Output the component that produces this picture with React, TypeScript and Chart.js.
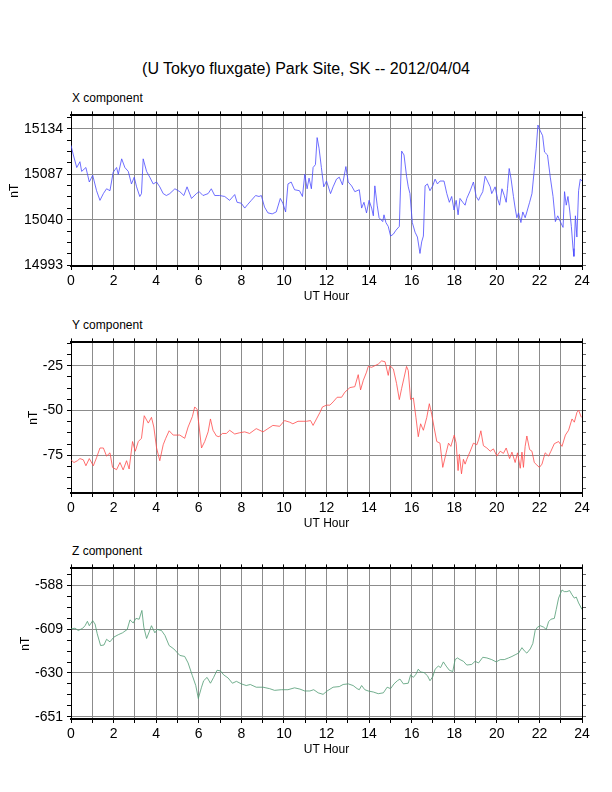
import { useEffect, useRef } from 'react';
import { Chart, registerables } from 'chart.js';

Chart.register(...registerables);

const FONT = '"Liberation Sans", Helvetica, Arial, sans-serif';
const GRID = '#8c8c8c';

// UT hours, shared tick list
const hourTicks = [0, 1, 2, 3, 4, 5, 6, 7, 8, 9, 10, 11, 12, 13, 14, 15, 16, 17, 18, 19, 20, 21, 22, 23, 24];

// X component (nT)
const xHours = [
  0, 0.11, 0.27, 0.42, 0.5, 0.7, 0.86, 1.02, 1.2, 1.36, 1.52, 1.67, 1.83, 1.98, 2.14, 2.22, 2.38, 2.53, 2.69, 2.84,
  2.97, 3.08, 3.23, 3.31, 3.39, 3.55, 3.7, 3.86, 4.02, 4.17, 4.33, 4.48, 4.64, 4.88, 5.11, 5.3, 5.45, 5.66, 5.89, 6.02,
  6.2, 6.44, 6.59, 6.75, 6.98, 7.22, 7.45, 7.69, 7.8, 8.0, 8.16, 8.31, 8.47, 8.67, 8.83, 8.94, 9.09, 9.25, 9.45, 9.64,
  9.83, 9.95, 10.08, 10.19, 10.34, 10.5, 10.73, 10.87, 10.98, 11.09, 11.18, 11.29, 11.37, 11.48, 11.56, 11.65, 11.76,
  11.87, 12.0, 12.19, 12.31, 12.47, 12.6, 12.75, 12.91, 13.02, 13.18, 13.33, 13.54, 13.65, 13.76, 13.88, 14.0, 14.12,
  14.2, 14.27, 14.38, 14.47, 14.64, 14.7, 14.79, 14.9, 15.01, 15.14, 15.26, 15.42, 15.53, 15.64, 15.76, 15.84, 15.92,
  16.03, 16.16, 16.27, 16.39, 16.47, 16.55, 16.63, 16.74, 16.86, 16.99, 17.1, 17.21, 17.33, 17.52, 17.65, 17.77, 17.88,
  17.99, 18.09, 18.18, 18.27, 18.4, 18.51, 18.59, 18.75, 18.9, 19.03, 19.14, 19.22, 19.34, 19.45, 19.56, 19.69, 19.76,
  19.92, 20.03, 20.13, 20.24, 20.35, 20.44, 20.5, 20.58, 20.67, 20.78, 20.86, 20.94, 21.02, 21.13, 21.22, 21.33, 21.41,
  21.54, 21.65, 21.76, 21.85, 21.93, 22.04, 22.15, 22.24, 22.38, 22.51, 22.64, 22.75, 22.86, 22.98, 23.11, 23.18, 23.26,
  23.34, 23.42, 23.5, 23.58, 23.62, 23.69, 23.76, 23.84, 23.92, 24.0,
];
const xValues = [
  15117, 15107, 15094, 15100, 15090, 15094, 15079, 15086, 15070, 15060, 15067, 15072, 15070, 15089, 15094, 15087, 15103, 15094, 15090, 15077,
  15084, 15074, 15064, 15067, 15103, 15090, 15084, 15077, 15079, 15074, 15067, 15065, 15067, 15072, 15069, 15065, 15074, 15062, 15067, 15069,
  15065, 15067, 15072, 15065, 15065, 15064, 15060, 15066, 15058, 15057, 15052, 15056, 15060, 15065, 15064, 15065, 15053, 15047, 15046, 15048,
  15062, 15057, 15048, 15077, 15079, 15071, 15070, 15064, 15087, 15072, 15083, 15072, 15094, 15097, 15125, 15114, 15094,
  15074, 15080, 15067, 15074, 15082, 15084, 15076, 15095, 15079, 15075, 15069, 15071, 15052, 15058, 15047, 15060, 15052,
  15044, 15075, 15055, 15042, 15038, 15045, 15037, 15033, 15023, 15025, 15029, 15033, 15111, 15107, 15085, 15074, 15067,
  15037, 15027, 15022, 15005, 15017, 15023, 15075, 15077, 15070, 15075, 15082, 15077, 15080, 15080, 15067, 15058, 15064,
  15050, 15060, 15045, 15062, 15058, 15055, 15062, 15070, 15079, 15064, 15060, 15064, 15069, 15085, 15080, 15074, 15067,
  15074, 15062, 15055, 15072, 15065, 15058, 15072, 15093, 15082, 15064, 15052, 15042, 15047, 15037, 15048, 15042, 15048,
  15058, 15067, 15092, 15114, 15138, 15132, 15127, 15110, 15107, 15084, 15064, 15038, 15044, 15038, 15032, 15069, 15055,
  15064, 15050, 15033, 15010, 15002, 15044, 15022, 15070, 15082, 15080,
];
const xTicks = [14993, 15040, 15087, 15134];

// Y component (nT)
const yHours = [
  0, 0.14, 0.3, 0.42, 0.58, 0.7, 0.86, 1.05, 1.2, 1.36, 1.52, 1.67, 1.83, 1.95, 2.14, 2.3, 2.45, 2.61, 2.73, 2.89,
  3.02, 3.16, 3.31, 3.44, 3.63, 3.78, 3.89, 4.02, 4.17, 4.33, 4.45, 4.61, 4.8, 5.11, 5.34, 5.5, 5.7, 5.81, 5.92, 6.02,
  6.13, 6.28, 6.44, 6.55, 6.67, 6.83, 6.95, 7.11, 7.3, 7.45, 7.69, 7.92, 8.16, 8.39, 8.7, 9.02, 9.25, 9.48, 9.8, 10.03,
  10.27, 10.42, 10.66, 10.9, 11.06, 11.25, 11.37, 11.53, 11.69, 11.81, 12.0, 12.16, 12.31, 12.5, 12.71, 12.86, 13.1,
  13.33, 13.49, 13.6, 13.73, 13.88, 13.96, 14.12, 14.27, 14.43, 14.59, 14.75, 14.9, 14.98, 15.14, 15.29, 15.42, 15.53,
  15.64, 15.76, 15.84, 15.95, 16.08, 16.2, 16.31, 16.42, 16.55, 16.71, 16.83, 16.94, 17.05, 17.18, 17.33, 17.46, 17.62,
  17.73, 17.84, 18.0, 18.09, 18.18, 18.24, 18.34, 18.43, 18.51, 18.59, 18.75, 18.9, 19.06, 19.14, 19.25, 19.37, 19.53,
  19.69, 19.84, 20.0, 20.16, 20.31, 20.44, 20.6, 20.71, 20.86, 20.97, 21.1, 21.18, 21.25, 21.33, 21.41, 21.54, 21.65,
  21.76, 21.88, 22.0, 22.12, 22.27, 22.43, 22.54, 22.7, 22.9, 23.06, 23.22, 23.37, 23.53, 23.64, 23.76, 23.84, 23.97,
];
const yValues = [
  -77.5, -79, -78, -76.8, -77.5, -80.8, -76.8, -80.8, -76.3, -70.9, -70.9, -75.4, -73.6, -81.7, -83, -79, -83.1, -78, -82.6, -67.3,
  -72.7, -67.3, -65.5, -52.9, -57, -53.8, -59.2, -70.9, -78, -69.1, -65.5, -61.3, -63.7, -63.7, -65.5, -59.2, -53.4, -48, -49.3, -59.2,
  -70.9, -67.3, -61.9, -54.7, -61, -64.2, -64.6, -62.8, -62.8, -61, -63.1, -62.4, -61.9, -62.8, -60.1, -61.9, -60.1, -58.3, -58.8, -55.6,
  -56.5, -57.4, -56, -56, -56, -55.6, -58.3, -54.7, -51.1, -48, -47, -47, -45.2, -42.6, -42.6, -39.8, -37.2,
  -36.7, -30, -38.5, -33.1, -28.6, -25.4, -25.9, -25, -24.1, -22.3, -22.8, -30.4, -25, -26.8, -34.9, -43.9, -37.6,
  -31.8, -25.4, -27.7, -43.9, -43, -53.8, -64.6, -57.4, -61, -53.8, -46.2, -52, -59.2, -67.3, -68.2, -81.7, -73.6,
  -68.2, -70, -63.7, -68.2, -83.5, -74.5, -85.3, -77.2, -79.9, -77.2, -72.7, -68.2, -69.1, -66.4, -61.3, -69.6, -70.9,
  -72.7, -71.4, -75.4, -72.7, -73.9, -70.9, -76.8, -73.2, -79, -73.6, -82.2, -73.2, -81.7, -70, -64.2, -71.8, -72.7,
  -79, -80.4, -81.7, -79.9, -73.6, -75.4, -72.7, -68.5, -67.3, -70, -63.7, -61, -54.7, -56.5, -51.1, -49.8, -53.8,
];
const yTicks = [-75, -50, -25];

// Z component (nT)
const zHours = [
  0, 0.19, 0.34, 0.55, 0.66, 0.77, 0.86, 1.02, 1.13, 1.23, 1.39, 1.55, 1.67, 1.83, 2.02, 2.22, 2.42, 2.64, 2.77, 2.92,
  3.05, 3.2, 3.33, 3.42, 3.55, 3.67, 3.78, 3.94, 4.05, 4.25, 4.41, 4.61, 4.83, 5.11, 5.34, 5.5, 5.7, 5.86, 5.98, 6.13,
  6.23, 6.39, 6.55, 6.7, 6.86, 7.02, 7.17, 7.38, 7.58, 7.77, 8.0, 8.23, 8.42, 8.7, 9.02, 9.33, 9.56, 9.88, 10.19, 10.5,
  10.75, 10.98, 11.22, 11.4, 11.61, 11.84, 12.03, 12.31, 12.6, 12.78, 13.02, 13.25, 13.44, 13.54, 13.65, 13.8, 13.96,
  14.2, 14.43, 14.67, 14.85, 15.01, 15.17, 15.33, 15.45, 15.61, 15.84, 15.95, 16.08, 16.2, 16.31, 16.42, 16.58, 16.74,
  16.86, 16.99, 17.1, 17.25, 17.36, 17.49, 17.62, 17.77, 17.93, 18.04, 18.15, 18.27, 18.43, 18.59, 18.82, 18.98, 19.14,
  19.34, 19.53, 19.76, 19.97, 20.16, 20.35, 20.55, 20.71, 20.86, 21.02, 21.18, 21.29, 21.41, 21.57, 21.69, 21.8, 21.91,
  22.04, 22.2, 22.32, 22.43, 22.54, 22.7, 22.79, 22.9, 23.06, 23.17, 23.29, 23.42, 23.53, 23.64, 23.73, 23.84, 24.0,
];
const zValues = [
  -608.9, -608.6, -609.7, -608.6, -607.4, -605.3, -607.4, -605, -606.6, -611.2, -616.9, -616.6, -613.9, -615.1, -612.8, -611.7, -610.8, -609.2, -604.6, -606.1,
  -603.9, -604.3, -600.1, -608.1, -613.5, -610.4, -607.4, -610.8, -609.2, -609.7, -612, -616.9, -618.5, -621.6, -622.1, -625.2, -631.3, -636, -642.2, -636.8,
  -633.7, -632.1, -634.9, -632.1, -628.7, -629, -630.9, -632.4, -634.9, -634, -635.2, -636, -635.5, -636.8, -636.8, -637.5, -638.3, -638, -638, -637.1,
  -637.7, -638.6, -638.6, -638, -639.5, -640.2, -638.6, -636.8, -636.5, -635.5, -635.2, -636, -637.5, -638, -636, -638, -638.6,
  -639.1, -639.9, -639.5, -636.8, -637.5, -635.2, -633.7, -632.9, -635.2, -634.9, -630.9, -632.1, -630.6, -628.2, -629.5, -629.8, -631.3,
  -633.7, -631.8, -628.2, -626.7, -627.4, -624.7, -626.7, -628.7, -629.3, -623.6, -622.8, -623.6, -624.4, -626.2, -625.9, -624.4, -625.2,
  -622.5, -622.8, -623.6, -624.7, -623.6, -623.6, -622.8, -622.1, -621.3, -620.5, -617.9, -619.4, -620.5, -618.5, -615.9, -609.7, -608.1,
  -607.4, -608.1, -609.2, -605.5, -604.3, -603.9, -599.6, -594.2, -590.3, -591.1, -591.1, -590.6, -592.6, -594.2, -593.7, -596.5, -599.6,
];
const zTicks = [-651, -630, -609, -588];

// major ticks plus 4 subdivisions, clipped to the axis range
function withMinor(major: number[], min: number, max: number) {
  const step = (major[1] - major[0]) / 4;
  let v = major[0];
  while (v - step >= min) v -= step;
  const out: number[] = [];
  for (; v <= max + 1e-6; v += step) out.push(Math.round(v * 1000) / 1000);
  return out;
}

const yTitlePlugin = {
  id: 'yTitle',
  afterDraw(chart: any) {
    const { ctx, chartArea } = chart;
    const scale = chart.scales.y;
    ctx.save();
    ctx.font = `14px ${FONT}`;
    let w = 0;
    scale.ticks.forEach((t: any) => {
      if (t.label) w = Math.max(w, ctx.measureText(String(t.label)).width);
    });
    const x = chartArea.left - 8 - w - 9;
    const y = (chartArea.top + chartArea.bottom) / 2;
    ctx.translate(x, y);
    ctx.rotate(-Math.PI / 2);
    ctx.font = `12px ${FONT}`;
    ctx.fillStyle = '#000';
    ctx.textAlign = 'center';
    ctx.textBaseline = 'middle';
    ctx.fillText('nT', 0, 0);
    ctx.restore();
  },
};

interface PanelProps {
  label: string;
  hours: number[];
  values: number[];
  color: string;
  min: number;
  max: number;
  major: number[];
  top: number;
}

function Panel({ label, hours, values, color, min, max, major, top }: PanelProps) {
  const canvasRef = useRef<HTMLCanvasElement>(null);

  useEffect(() => {
    if (!canvasRef.current) return;
    const all = withMinor(major, min, max);
    const isMajor = (v: number) => major.some((m) => Math.abs(m - v) < 1e-6);

    const chart = new Chart(canvasRef.current, {
      type: 'line',
      data: {
        datasets: [
          {
            data: hours.map((h, i) => ({ x: h, y: values[i] })),
            borderColor: color,
            borderWidth: 0.8,
            pointRadius: 0,
            tension: 0,
            xAxisID: 'x',
            yAxisID: 'y',
          },
        ],
      },
      options: {
        responsive: true,
        maintainAspectRatio: false,
        animation: false,
        layout: { padding: 0 },
        plugins: { legend: { display: false }, tooltip: { enabled: false } },
        scales: {
          x: {
            type: 'linear',
            position: 'bottom',
            min: 0,
            max: 24,
            afterFit: (s: any) => { s.height = 38; },
            afterBuildTicks: (s: any) => { s.ticks = hourTicks.map((v) => ({ value: v })); },
            ticks: {
              autoSkip: false,
              maxRotation: 0,
              padding: 3,
              color: '#000',
              font: { size: 14 },
              callback: (v: any) => (v % 2 === 0 ? String(v) : ''),
            },
            grid: { color: GRID, tickColor: '#000', tickLength: 4 },
            border: { color: '#000', width: 2 },
            title: { display: true, text: 'UT Hour', color: '#000', font: { size: 12 }, padding: 0 },
          },
          xTop: {
            type: 'linear',
            position: 'top',
            min: 0,
            max: 24,
            afterFit: (s: any) => { s.height = 8; },
            afterBuildTicks: (s: any) => { s.ticks = hourTicks.map((v) => ({ value: v })); },
            ticks: { display: false },
            grid: { drawOnChartArea: false, tickColor: '#000', tickLength: 4 },
            border: { color: '#000', width: 2 },
          },
          y: {
            type: 'linear',
            position: 'left',
            min,
            max,
            afterFit: (s: any) => { s.width = 71; },
            afterBuildTicks: (s: any) => { s.ticks = all.map((v) => ({ value: v })); },
            ticks: {
              autoSkip: false,
              padding: 4,
              color: '#000',
              font: { size: 14 },
              callback: (v: any) => (isMajor(v) ? String(v) : ''),
            },
            grid: {
              color: (c: any) => (c.tick && isMajor(c.tick.value) ? GRID : 'rgba(0,0,0,0)'),
              tickColor: '#000',
              tickLength: 4,
            },
            border: { color: '#000', width: 1 },
          },
          yRight: {
            type: 'linear',
            position: 'right',
            min,
            max,
            afterFit: (s: any) => { s.width = 30; },
            afterBuildTicks: (s: any) => { s.ticks = all.map((v) => ({ value: v })); },
            ticks: { display: false },
            grid: { drawOnChartArea: false, tickColor: '#666', tickLength: 4 },
            border: { color: '#000', width: 1 },
          },
        },
      },
      plugins: [yTitlePlugin],
    });

    return () => {
      chart.destroy();
    };
  }, [hours, values, color, min, max, major]);

  return (
    <>
      <div
        style={{
          position: 'absolute',
          left: 72,
          top: top - 20,
          fontSize: 12,
          lineHeight: '14px',
          color: '#000',
        }}
      >
        {label}
      </div>
      <div style={{ position: 'absolute', left: 0, top: top - 8, width: 612, height: 201 }}>
        <canvas ref={canvasRef} />
      </div>
    </>
  );
}

export default function App() {
  Chart.defaults.font.family = FONT;
  return (
    <div
      style={{
        position: 'absolute',
        left: 0,
        top: 0,
        width: 612,
        height: 792,
        background: '#fff',
        fontFamily: FONT,
      }}
    >
      <div
        style={{
          position: 'absolute',
          left: 0,
          top: 59,
          width: 612,
          textAlign: 'center',
          fontSize: 16,
          lineHeight: '20px',
          color: '#000',
        }}
      >
        (U Tokyo fluxgate) Park Site, SK -- 2012/04/04
      </div>
      <Panel label="X component" hours={xHours} values={xValues} color="#4a4aff" min={14992} max={15148} major={xTicks} top={111} />
      <Panel label="Y component" hours={yHours} values={yValues} color="#ff4a4a" min={-96} max={-12} major={yTicks} top={338} />
      <Panel label="Z component" hours={zHours} values={zValues} color="#4f9a72" min={-652} max={-580} major={zTicks} top={564} />
    </div>
  );
}
